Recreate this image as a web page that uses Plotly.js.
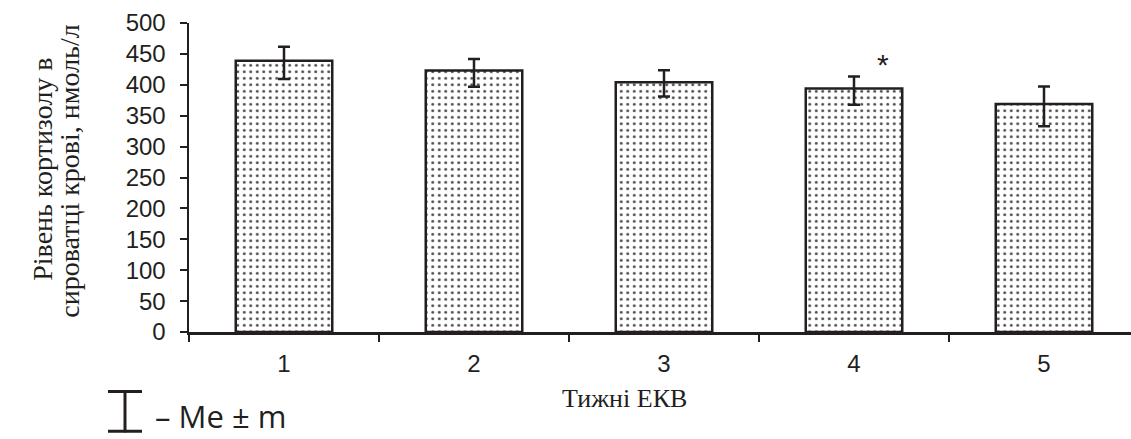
<!DOCTYPE html>
<html>
<head>
<meta charset="utf-8">
<script src="https://cdn.plot.ly/plotly-3.0.1.min.js"></script>
<style>html,body{margin:0;padding:0;background:#fff;}#chart{width:1131px;height:439px;}</style>
</head>
<body>
<div id="chart"></div>
<script>
// Data
const weeks = ['1', '2', '3', '4', '5'];
const cortisol = [439, 423, 404, 394, 369];
const errPlus = [22.6, 18.8, 19.4, 19.3, 28.3];
const errMinus = [29.6, 26.0, 23.0, 26.4, 36.2];
const yTicks = [0, 50, 100, 150, 200, 250, 300, 350, 400, 450, 500];
const starWeek = '4';
const yTitleLines = ['Рівень кортизолу в', 'сироватці крові, нмоль/л'];
const xTitle = 'Тижні ЕКВ';
const legendText = '– Me ± m';

const W = 1131, H = 439;
const mL = 189, mR = 0, mT = 23, mB = 106.5;
const plotW = W - mL - mR, plotH = H - mT - mB;
const px = v => (v - mL) / plotW;
const py = v => (H - mB - v) / plotH;
const ink = '#231f20';

const starIdx = weeks.indexOf(starWeek);

const trace = {
  type: 'bar',
  x: weeks,
  y: cortisol,
  marker: {
    color: '#ffffff',
    line: {color: ink, width: 2.5},
    pattern: {shape: '.', fgcolor: '#4a4a4a', bgcolor: '#ffffff', size: 6.5, solidity: 0.16}
  },
  error_y: {
    type: 'data', symmetric: false,
    array: errPlus, arrayminus: errMinus,
    color: ink, thickness: 2.5, width: 6
  },
  hoverinfo: 'skip'
};

const serif = 'Liberation Serif, Times New Roman, serif';
const sans = 'Liberation Sans, Arial, sans-serif';

const layout = {
  width: W, height: H,
  margin: {l: mL, r: mR, t: mT, b: mB, pad: 0},
  paper_bgcolor: '#ffffff', plot_bgcolor: '#ffffff',
  showlegend: false,
  bargap: 0.492,
  font: {family: sans, color: ink},
  xaxis: {
    type: 'category',
    range: [-0.5, -0.5 + plotW / 190],
    tickson: 'boundaries',
    ticks: 'outside', ticklen: 7, tickwidth: 2, tickcolor: ink,
    showline: true, linecolor: ink, linewidth: 2.5,
    showgrid: false, zeroline: false,
    tickfont: {family: sans, size: 24, color: ink},
    ticklabelstandoff: 9
  },
  yaxis: {
    range: [0, 500],
    tickvals: yTicks,
    ticks: 'outside', ticklen: 7, tickwidth: 2, tickcolor: ink,
    showline: true, linecolor: ink, linewidth: 2.5,
    showgrid: false, zeroline: false,
    tickfont: {family: sans, size: 24, color: ink},
    ticklabelstandoff: 9
  },
  annotations: [
    {
      xref: 'paper', yref: 'paper', x: px(43), y: py(170),
      text: yTitleLines[0], textangle: -90, showarrow: false,
      xanchor: 'center', yanchor: 'middle',
      font: {family: serif, size: 28, color: ink}
    },
    {
      xref: 'paper', yref: 'paper', x: px(70), y: py(172),
      text: yTitleLines[1], textangle: -90, showarrow: false,
      xanchor: 'center', yanchor: 'middle',
      font: {family: serif, size: 28, color: ink}
    },
    {
      xref: 'paper', yref: 'paper', x: px(624), y: py(399),
      text: xTitle, showarrow: false, xanchor: 'center', yanchor: 'middle',
      font: {family: serif, size: 26, color: ink}
    },
    {
      xref: 'x', yref: 'y', x: starIdx, y: cortisol[starIdx] + errPlus[starIdx],
      xshift: 29, yshift: 12,
      text: '*', showarrow: false, xanchor: 'center', yanchor: 'middle',
      font: {family: sans, size: 30, color: ink}
    },
    {
      xref: 'paper', yref: 'paper', x: px(154), y: py(438.5),
      text: legendText, showarrow: false, xanchor: 'left', yanchor: 'bottom',
      borderpad: 0,
      font: {family: 'Open Sans, Noto Sans, sans-serif', size: 31, color: ink}
    }
  ],
  shapes: [
    {type: 'line', xref: 'paper', yref: 'paper', x0: px(125), x1: px(125), y0: py(391), y1: py(433), line: {color: ink, width: 3}},
    {type: 'line', xref: 'paper', yref: 'paper', x0: px(108), x1: px(142), y0: py(392), y1: py(392), line: {color: ink, width: 3}},
    {type: 'line', xref: 'paper', yref: 'paper', x0: px(108), x1: px(142), y0: py(432), y1: py(432), line: {color: ink, width: 3}}
  ]
};

Plotly.newPlot('chart', [trace], layout, {displayModeBar: false, staticPlot: true});
</script>
</body>
</html>
